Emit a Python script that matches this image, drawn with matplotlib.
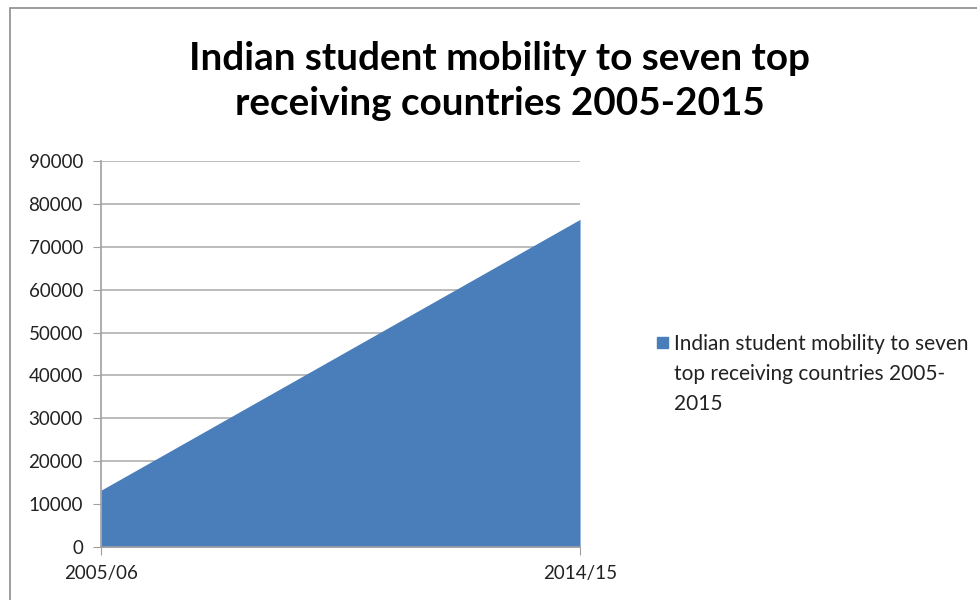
import numpy as np
import matplotlib.pyplot as plt
from matplotlib.patches import Rectangle

years = ["2005/06", "2014/15"]
students = [13250, 76400]
title = "Indian student mobility to seven top\nreceiving countries 2005-2015"
series_lines = ["Indian student mobility to seven",
                "top receiving countries 2005-",
                "2015"]

plt.rcParams['font.family'] = ['Lato', 'DejaVu Sans']

fig = plt.figure(figsize=(9.78, 6), dpi=100)
ax = fig.add_axes([0.1033, 0.0883, 0.4898, 0.6434])

x = np.arange(len(years))
ax.fill_between(x, 0, students, color="#4a7ebb", linewidth=0)

ax.set_xlim(0, 1)
ax.set_ylim(0, 90000)
ax.set_yticks(np.arange(0, 90001, 10000))
ax.set_xticks(x)
ax.set_xticklabels(years)
ax.yaxis.grid(True, color="#b0b0b0", linewidth=1.2)
ax.set_axisbelow(True)

for s in ["top", "right"]:
    ax.spines[s].set_visible(False)
for s in ["left", "bottom"]:
    ax.spines[s].set_color("#a0a0a0")
    ax.spines[s].set_linewidth(1.2)
ax.tick_params(axis="y", length=6, color="#a0a0a0", labelsize=13.5, pad=7,
               labelcolor="#222222")
ax.tick_params(axis="x", length=6, color="#a0a0a0", labelsize=13.5, pad=7,
               labelcolor="#222222")

fig.text(0.511, 0.865, title, ha="center", va="center", fontsize=27.8,
         fontweight="bold", linespacing=1.36)

# legend entry on the right, one text per wrapped line
fig.patches.append(Rectangle((657 / 978, 1 - 348 / 600), 11 / 978, 11 / 600,
                             transform=fig.transFigure, color="#4a7ebb"))
for i, line in enumerate(series_lines):
    fig.text(674 / 978, 1 - (342 + 30 * i) / 600, line, ha="left",
             va="center_baseline", fontsize=15, color="#222222")

# outer chart border
fig.patches.append(Rectangle((10 / 978, -0.1), 1.2, 1 - 8 / 600 + 0.1,
                             transform=fig.transFigure, fill=False,
                             edgecolor="#8c8c8c", linewidth=1.2))

fig.savefig("out.png", dpi=100)
